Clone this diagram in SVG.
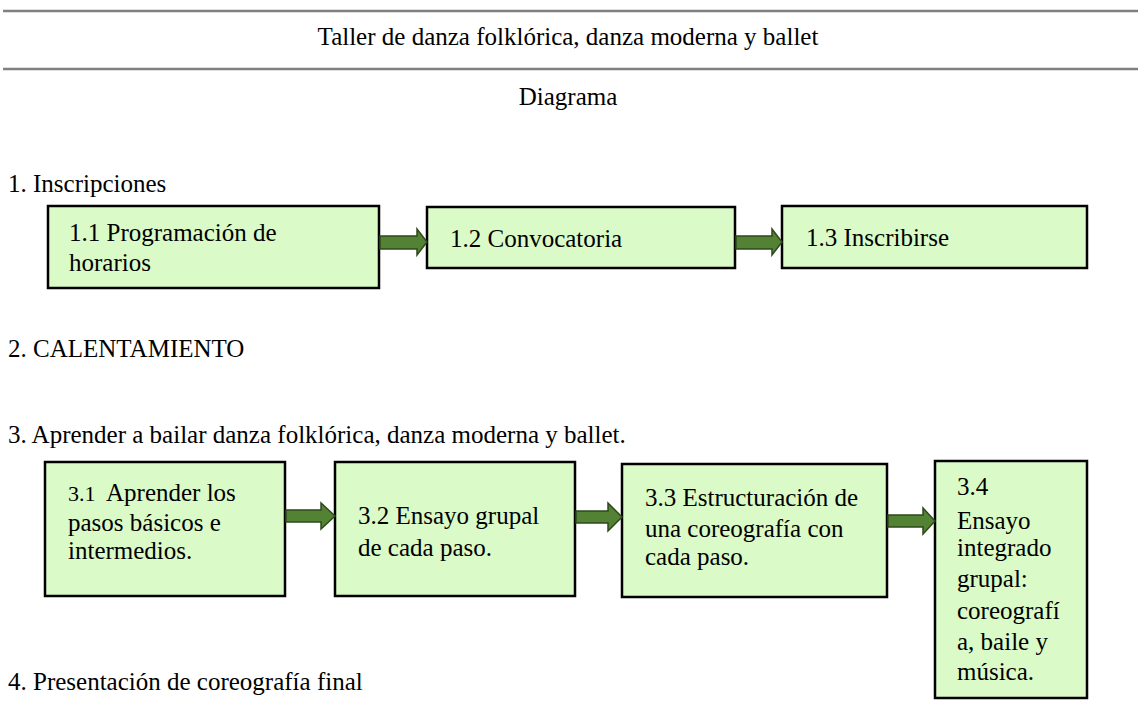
<svg xmlns="http://www.w3.org/2000/svg" width="1138" height="728" viewBox="0 0 1138 728">
<style>
.t{font-family:"Liberation Serif","Times New Roman",serif;font-size:25px;fill:#000}
.s{font-size:22px}
.box{fill:#dafac8;stroke:#000;stroke-width:2.5}
.arr{fill:#548235;stroke:#2e4a1c;stroke-width:1.5}
.rule{stroke:#808080;stroke-width:2.5}
</style>
<rect width="1138" height="728" fill="#fff"/>
<g id="header">
<line class="rule" x1="3" y1="11" x2="1138" y2="11"/>
<text class="t" x="568" y="45" text-anchor="middle">Taller de danza folklórica, danza moderna y ballet</text>
<line class="rule" x1="3" y1="69" x2="1138" y2="69"/>
<text class="t" x="568" y="105" text-anchor="middle">Diagrama</text>
</g>
<g id="sections">
<text class="t" x="8" y="192">1. Inscripciones</text>
<text class="t" x="8" y="357">2. CALENTAMIENTO</text>
<text class="t" x="8" y="443">3. Aprender a bailar danza folklórica, danza moderna y ballet.</text>
<text class="t" x="8" y="690">4. Presentación de coreografía final</text>
</g>
<g id="n1_1">
<rect class="box" x="48" y="206" width="331" height="82"/>
<text class="t" x="69" y="241">1.1 Programación de</text>
<text class="t" x="69" y="271">horarios</text>
</g>
<g id="n1_2">
<rect class="box" x="427" y="207" width="308" height="61"/>
<text class="t" x="450" y="247">1.2 Convocatoria</text>
</g>
<g id="n1_3">
<rect class="box" x="782" y="206" width="305" height="62"/>
<text class="t" x="806" y="246">1.3 Inscribirse</text>
</g>
<g id="n3_1">
<rect class="box" x="45" y="462" width="240" height="134"/>
<text class="t" x="68" y="501"><tspan class="s">3.1</tspan><tspan x="106">Aprender los</tspan></text>
<text class="t" x="68" y="531">pasos básicos e</text>
<text class="t" x="68" y="559">intermedios.</text>
</g>
<g id="n3_2">
<rect class="box" x="335" y="462" width="240" height="134"/>
<text class="t" x="358" y="524">3.2 Ensayo grupal</text>
<text class="t" x="358" y="556">de cada paso.</text>
</g>
<g id="n3_3">
<rect class="box" x="622" y="464" width="265" height="133"/>
<text class="t" x="645" y="506">3.3 Estructuración de</text>
<text class="t" x="645" y="537">una coreografía con</text>
<text class="t" x="645" y="565">cada paso.</text>
</g>
<g id="n3_4">
<rect class="box" x="935" y="461" width="152" height="237"/>
<text class="t" x="957" y="495">3.4</text>
<text class="t" x="957" y="529">Ensayo</text>
<text class="t" x="957" y="556">integrado</text>
<text class="t" x="957" y="587">grupal:</text>
<text class="t" x="957" y="619">coreografí</text>
<text class="t" x="957" y="650">a, baile y</text>
<text class="t" x="957" y="680">música.</text>
</g>
<g id="connectors">
<polygon class="arr" points="380,236 417,236 417,229 427,242 417,255 417,249 380,249"/>
<polygon class="arr" points="736,236 772,236 772,229 782,242 772,255 772,249 736,249"/>
<polygon class="arr" points="286,510 321,510 321,503 335,516 321,529 321,522 286,522"/>
<polygon class="arr" points="576,511 608,511 608,503 622,517 608,531 608,523 576,523"/>
<polygon class="arr" points="888,515 923,515 923,508 935,521 923,534 923,527 888,527"/>
</g>
</svg>
